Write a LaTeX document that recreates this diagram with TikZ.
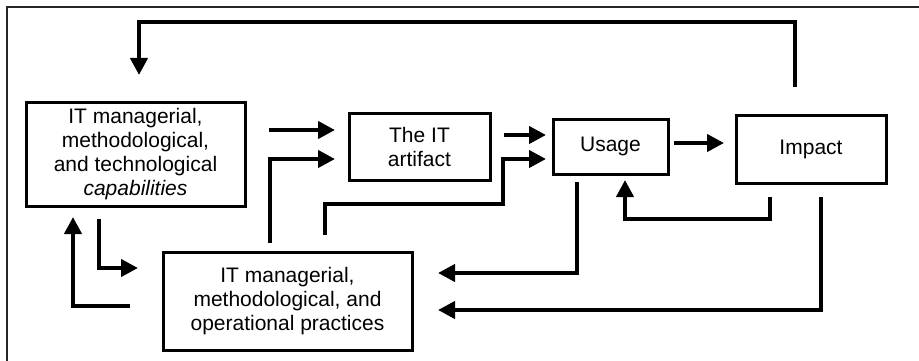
\documentclass[tikz,border=0pt]{standalone}
\usepackage{fontspec}
\setmainfont{Liberation Sans}
\usetikzlibrary{arrows.meta}
\begin{document}
\begin{tikzpicture}[x=1pt,y=-1pt,
  box/.style={draw,line width=3pt,inner sep=0pt,align=center,font=\fontsize{21}{24}\selectfont},
  conn/.style={line width=4pt,-{Triangle[length=17pt,width=17pt]}},
  plain/.style={line width=4pt}]
\useasboundingbox (0,0) rectangle (919,361);
\draw[line width=1.3pt,black!85] (7,361) -- (7,7) -- (919,7);
% boxes
\node[box,minimum width=219pt,minimum height=103pt] (cap) at (135.5,154.5) {IT managerial,\\methodological,\\and technological\\\textit{capabilities}};
\node[box,minimum width=141pt,minimum height=67pt] (art) at (419.5,146.5) {The IT\\artifact};
\node[box,minimum width=115pt,minimum height=55pt] (use) at (610.5,146.5) {\raisebox{-3pt}{Usage}};
\node[box,minimum width=150pt,minimum height=68pt] (imp) at (811,149) {\raisebox{-3pt}{Impact}};
\node[box,minimum width=249pt,minimum height=98pt] (pra) at (287.5,301) {IT managerial,\\methodological, and\\operational practices};
% connection points
\coordinate (t1) at (795,87);
\coordinate (t2) at (139,75);
\draw[conn] (t1) -- (795,22) -- (139,22) -- (t2);
\coordinate (a1) at (269,130); \coordinate (a2) at (335,130);
\draw[conn] (a1) -- (a2);
\coordinate (b1) at (270,243); \coordinate (b2) at (335,159);
\draw[conn] (b1) |- (b2);
\coordinate (c1) at (325,235); \coordinate (c2) at (546,159);
\draw[conn] (c1) -- (325,204) -- (503,204) |- (c2);
\coordinate (d1) at (504,135); \coordinate (d2) at (546,135);
\draw[conn] (d1) -- (d2);
\coordinate (e1) at (674,143); \coordinate (e2) at (724,143);
\draw[conn] (e1) -- (e2);
\coordinate (f1) at (770,197); \coordinate (f2) at (625,180);
\draw[conn] (f1) -- (770,219) -| (f2);
\coordinate (g1) at (577,182); \coordinate (g2) at (438,273);
\draw[conn] (g1) |- (g2);
\coordinate (h1) at (821,197); \coordinate (h2) at (438,310);
\draw[conn] (h1) |- (h2);
\coordinate (i1) at (99,219); \coordinate (i2) at (138,268);
\draw[conn] (i1) |- (i2);
\coordinate (j1) at (130,306); \coordinate (j2) at (73,217);
\draw[conn] (j1) -| (j2);
\end{tikzpicture}
\end{document}
